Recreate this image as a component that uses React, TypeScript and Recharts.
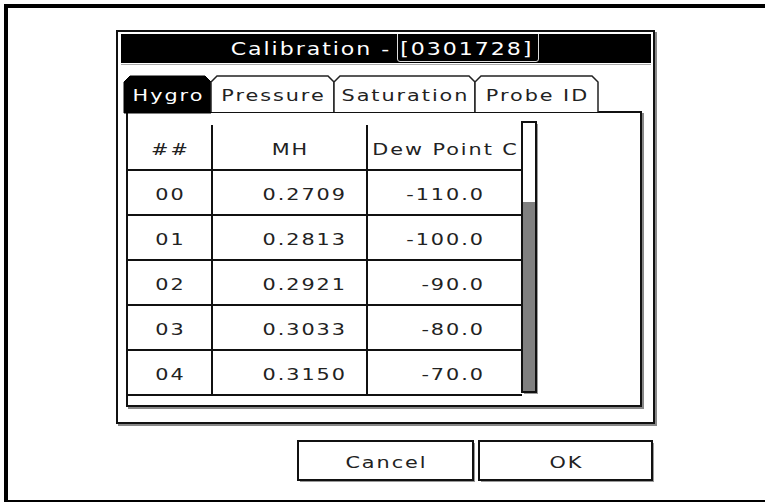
import React from "react";
import { Bar, BarChart, XAxis, YAxis } from "recharts";

// calibration table
const ROW_IDS = ["00", "01", "02", "03", "04"];
const MH_VALUES = [0.2709, 0.2813, 0.2921, 0.3033, 0.315];
const DEW_POINTS_C = [-110, -100, -90, -80, -70];
const COLUMN_HEADERS = ["##", "MH", "Dew Point C"];
const TABS = ["Hygro", "Pressure", "Saturation", "Probe ID"];
const TITLE = "Calibration - [0301728]";
const BUTTONS = ["Cancel", "OK"];

const W = 765;
const H = 503;
const FONT = "'DejaVu Sans', Verdana, sans-serif";
const STRETCH = 1.3; // the LCD font has very wide glyphs
const LS = 1.5;
const COL_WIDTHS = [85, 155, 155];
const TABLE = { left: 127, right: 522, top: 125, bottom: 395 };

type Row = { key: string; header: boolean; texts: string[]; c0: number; c1: number; c2: number };

const tableRows: Row[] = [
  { key: "hdr", header: true, texts: COLUMN_HEADERS, c0: COL_WIDTHS[0], c1: COL_WIDTHS[1], c2: COL_WIDTHS[2] },
  ...ROW_IDS.map((id, i) => ({
    key: id,
    header: false,
    texts: [id, MH_VALUES[i].toFixed(4), DEW_POINTS_C[i].toFixed(1)],
    c0: COL_WIDTHS[0],
    c1: COL_WIDTHS[1],
    c2: COL_WIDTHS[2],
  })),
];

const LcdText = ({
  x,
  y,
  anchor = "middle",
  size = 16,
  fill = "#222",
  children,
}: {
  x: number;
  y: number;
  anchor?: "middle" | "end" | "start";
  size?: number;
  fill?: string;
  children: React.ReactNode;
}) => {
  const shift = anchor === "middle" ? (LS * STRETCH) / 2 : anchor === "end" ? LS * STRETCH : 0;
  return (
    <text
      transform={`translate(${x + shift} ${y}) scale(${STRETCH} 1)`}
      x={0}
      y={0}
      textAnchor={anchor}
      dominantBaseline="central"
      fontFamily={FONT}
      fontSize={size}
      fill={fill}
      style={{ letterSpacing: LS }}
    >
      {children}
    </text>
  );
};

const cellShape = (col: number) => (props: any) => {
  const { x, y, width, height, payload } = props;
  const text: string = payload.texts[col];
  let tx = x + width / 2;
  let anchor: "middle" | "end" = "middle";
  if (!payload.header && col === 1) {
    tx = x + width - 22;
    anchor = "end";
  }
  if (!payload.header && col === 2) {
    tx = x + width - 39;
    anchor = "end";
  }
  return (
    <g>
      <line x1={x} x2={x + width} y1={y + height} y2={y + height} stroke="#111" strokeWidth={2} />
      {col < 2 && <line x1={x + width} x2={x + width} y1={y} y2={y + height} stroke="#111" strokeWidth={2} />}
      <LcdText x={tx} y={y + height / 2 + 2} anchor={anchor}>
        {text}
      </LcdText>
    </g>
  );
};

const tabPath = (x0: number, x1: number, top: number, bottom: number) =>
  `M${x0},${bottom} L${x0},${top + 6} L${x0 + 6},${top} L${x1 - 6},${top} L${x1},${top + 6} L${x1},${bottom}`;

const TAB_X = [124, 211, 334, 475, 598];

const Chrome = () => (
  <svg width={W} height={H} style={{ position: "absolute", left: 0, top: 0 }}>
    {/* outer frame */}
    <rect x={4} y={4} width={W - 4} height={4} fill="#000" />
    <rect x={4} y={4} width={4} height={497} fill="#000" />
    <rect x={4} y={500} width={W - 4} height={2} fill="#000" />

    {/* dialog */}
    <rect x={119} y={33} width={537} height={392} fill="none" stroke="#888" strokeWidth={2} />
    <rect x={117} y={31} width={537} height={392} fill="#fff" stroke="#111" strokeWidth={2} />
    <rect x={121} y={34} width={530} height={29} fill="#000" />
    <line x1={121} x2={651} y1={64.5} y2={64.5} stroke="#aaa" strokeWidth={1} />
    {/* field outline round the serial number */}
    <path d="M397.5,34 L397.5,59 Q397.5,61.5 400,61.5 L536,61.5 Q538.5,61.5 538.5,59 L538.5,34" fill="none" stroke="#ddd" strokeWidth={1} />
    <LcdText x={381} y={49} size={17} fill="#fff">
      {TITLE}
    </LcdText>

    {/* tab panel */}
    <rect x={129} y={114} width={514} height={294} fill="none" stroke="#888" strokeWidth={2} />
    <rect x={127} y={112} width={514} height={294} fill="#fff" stroke="#111" strokeWidth={2} />

    {/* tabs */}
    {TABS.map((t, i) => {
      const x0 = TAB_X[i];
      const x1 = TAB_X[i + 1];
      const active = i === 0;
      return (
        <g key={t}>
          <path
            d={tabPath(x0, x1, 76, active ? 113 : 112) + (active ? " Z" : "")}
            fill={active ? "#000" : "#fff"}
            stroke={active ? "#000" : "#222"}
            strokeWidth={active ? 1 : 1.5}
          />
          <LcdText x={(x0 + x1) / 2} y={95} fill={active ? "#fff" : "#222"}>
            {t}
          </LcdText>
        </g>
      );
    })}

    {/* scrollbar */}
    <rect x={524} y={124} width={14} height={270} fill="#999" />
    <rect x={522} y={122} width={14} height={270} fill="#fff" stroke="#111" strokeWidth={2} />
    <rect x={523} y={202} width={12} height={189} fill="#808080" />

    {/* buttons */}
    {BUTTONS.map((b, i) => {
      const x0 = i === 0 ? 298 : 479;
      const w = i === 0 ? 175 : 173;
      return (
        <g key={b}>
          <rect x={x0 + 2} y={443} width={w} height={39} fill="#999" />
          <rect x={x0} y={441} width={w} height={39} fill="#fff" stroke="#111" strokeWidth={2} />
          <LcdText x={x0 + w / 2} y={462}>
            {b}
          </LcdText>
        </g>
      );
    })}
  </svg>
);

export default function App() {
  return (
    <div style={{ position: "absolute", left: 0, top: 0, width: W, height: H, background: "#fff" }}>
      <Chrome />
      <div style={{ position: "absolute", left: 0, top: 0 }}>
        <BarChart
          width={W}
          height={H}
          data={tableRows}
          layout="vertical"
          barCategoryGap={0}
          margin={{ left: TABLE.left, right: W - TABLE.right, top: TABLE.top, bottom: H - TABLE.bottom }}
        >
          <XAxis type="number" domain={[0, TABLE.right - TABLE.left]} hide />
          <YAxis type="category" dataKey="key" hide />
          <Bar dataKey="c0" stackId="row" isAnimationActive={false} shape={cellShape(0)} />
          <Bar dataKey="c1" stackId="row" isAnimationActive={false} shape={cellShape(1)} />
          <Bar dataKey="c2" stackId="row" isAnimationActive={false} shape={cellShape(2)} />
        </BarChart>
      </div>
    </div>
  );
}
